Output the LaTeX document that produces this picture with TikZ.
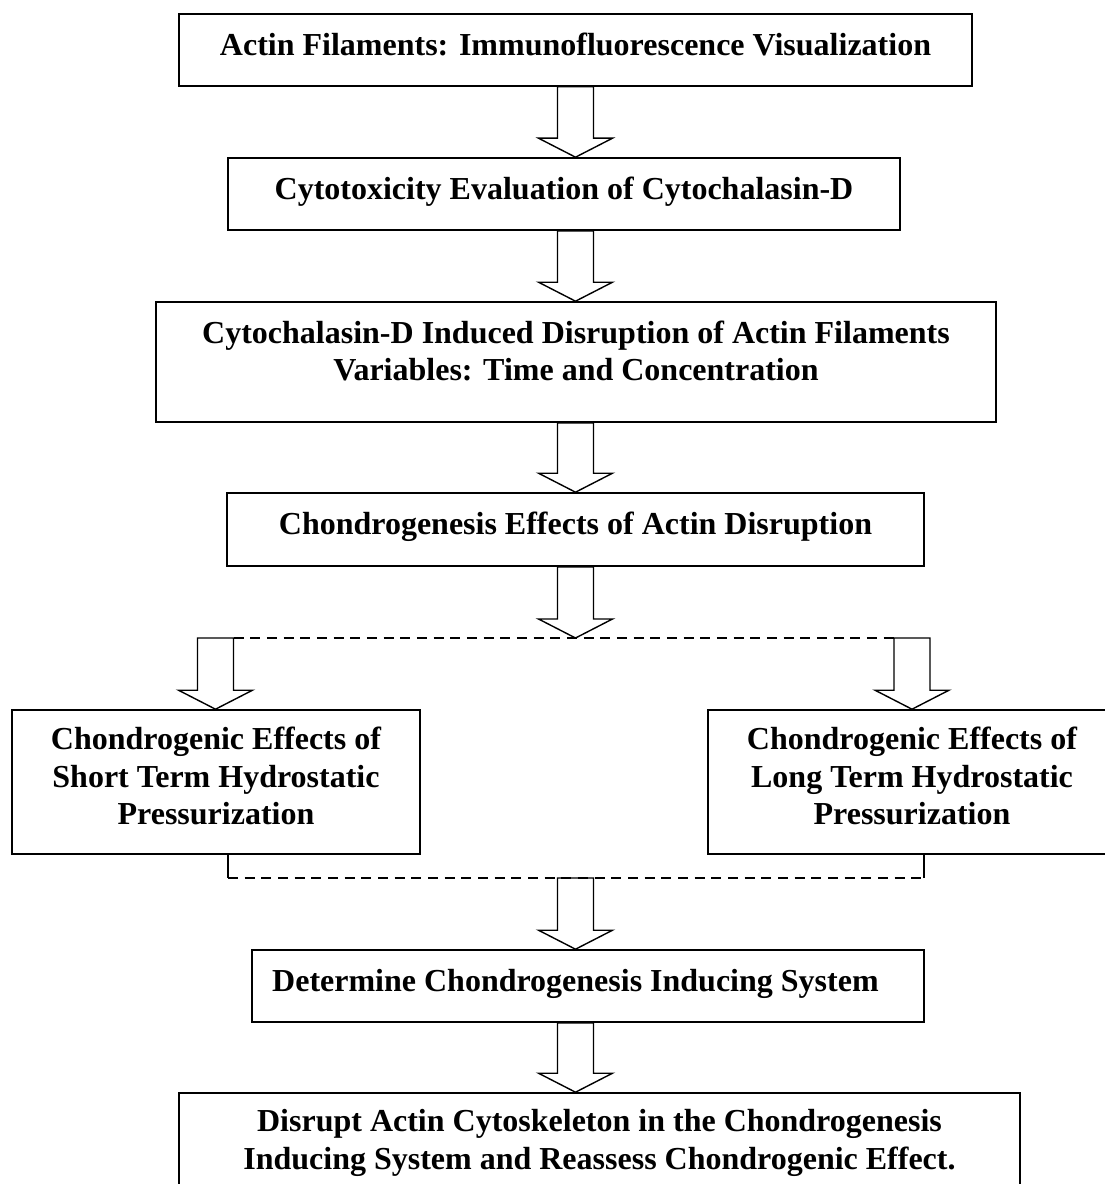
\documentclass[tikz,border=0pt]{standalone}
\usepackage{fontspec}
\setmainfont{Liberation Serif}
\usetikzlibrary{calc}

\def\u{0.75pt}
\tikzset{
  stagebox/.style={draw, line width=1.2pt, inner sep=0pt, align=center,
    font=\bfseries\fontsize{24}{28}\selectfont, text depth=9pt},
  arrowline/.style={draw, line width=1.05pt, line join=miter},
  branchline/.style={line width=1.2pt, dash pattern=on 7.5pt off 5pt}
}

% hollow block arrow from #1 (top of shaft) to #2 (tip)
\newcommand{\blockarrow}[2]{%
  \draw[arrowline] ($(#1)+(-18,0)$) -- ($(#2)+(-18,-19)$) -- ++(-19,0) -- (#2)
    -- ++(37,-19) -- ++(-19,0) -- ($(#1)+(18,0)$) -- cycle;}

\begin{document}
\begin{tikzpicture}[x=\u, y=-\u]
  \useasboundingbox (0,0) rectangle (1105,1184);
  \clip (0,0) rectangle (1105,1184);
  \coordinate (col) at (575.5,0);
  % stages
  \node[stagebox, minimum width=793*\u, minimum height=72*\u] (actin) at (575.5,50)
    {Actin Filaments: Immunofluorescence Visualization};
  \node[stagebox, minimum width=672*\u, minimum height=72*\u] (cyto) at (564,194)
    {Cytotoxicity Evaluation of Cytochalasin-D};
  \node[stagebox, minimum width=840*\u, minimum height=120*\u, text depth=17pt]
    (disrupt) at (576,362)
    {Cytochalasin-D Induced Disruption of Actin Filaments\\
     Variables: Time and Concentration};
  \node[stagebox, minimum width=697*\u, minimum height=73*\u] (chondro) at (575.5,529.5)
    {Chondrogenesis Effects of Actin Disruption};
  \node[stagebox, minimum width=408*\u, minimum height=144*\u] (short) at (216,782)
    {Chondrogenic Effects of\\ Short Term Hydrostatic\\ Pressurization};
  \node[stagebox, minimum width=408*\u, minimum height=144*\u] (long) at (912,782)
    {Chondrogenic Effects of\\ Long Term Hydrostatic\\ Pressurization};
  \node[stagebox, minimum width=672*\u, minimum height=72*\u] (determine) at (588,986)
    {Determine Chondrogenesis Inducing System\hspace{18.8pt}};
  \node[stagebox, minimum width=841*\u, minimum height=98*\u, text depth=4pt]
    (reassess) at (599.5,1142)
    {Disrupt Actin Cytoskeleton in the Chondrogenesis\\
     Inducing System and Reassess Chondrogenic Effect.};
  % branch points
  \coordinate (split) at (575.5,638);
  \coordinate (lsplit) at (215.5,638);
  \coordinate (rsplit) at (912,638);
  \coordinate (ljoin) at (228,878);
  \coordinate (rjoin) at (924,878);
  \coordinate (merge) at (575.5,878);
  % arrows
  \blockarrow{actin.south -| col}{cyto.north -| col}
  \blockarrow{cyto.south -| col}{disrupt.north -| col}
  \blockarrow{disrupt.south -| col}{chondro.north -| col}
  \blockarrow{chondro.south -| col}{split}
  \blockarrow{lsplit}{short.north -| lsplit}
  \blockarrow{rsplit}{long.north -| rsplit}
  \blockarrow{merge}{determine.north -| col}
  \blockarrow{determine.south -| col}{reassess.north -| col}
  % dashed branch and join
  \draw[branchline] ($(lsplit)+(18,0)$) -- ($(rsplit)+(-18,0)$);
  \draw[line width=1.1pt] (short.south -| ljoin) -- (ljoin);
  \draw[branchline] (ljoin) -- (rjoin);
  \draw[line width=1.1pt] (rjoin) -- (long.south -| rjoin);
\end{tikzpicture}
\end{document}
